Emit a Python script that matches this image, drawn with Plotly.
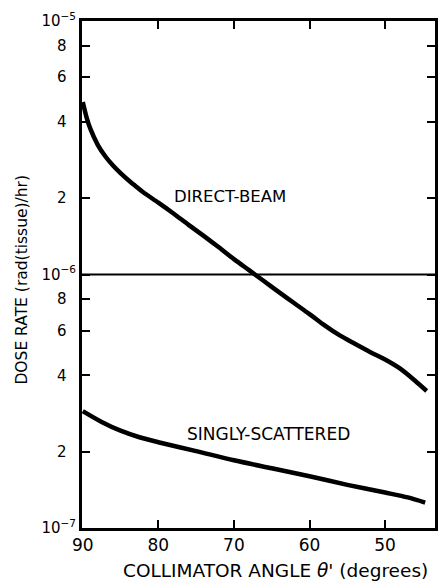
import plotly.graph_objects as go

# Data
direct_angle = [90.0, 89.5, 89.0, 88.0, 87.0, 86.0, 85.0, 84.0, 83.0, 82.0, 80.0, 78.0, 76.0, 74.0, 72.0, 70.0,
                68.0, 66.0, 64.0, 62.0, 60.0, 58.0, 56.0, 54.0, 52.0, 50.0, 48.0, 46.0, 44.5]
direct_dose = [4.79e-6, 4.17e-6, 3.76e-6, 3.24e-6, 2.92e-6, 2.69e-6, 2.51e-6, 2.36e-6, 2.23e-6, 2.11e-6,
               1.92e-6, 1.74e-6, 1.57e-6, 1.42e-6, 1.28e-6, 1.15e-6, 1.04e-6, 9.4e-7, 8.5e-7, 7.7e-7,
               6.98e-7, 6.3e-7, 5.75e-7, 5.33e-7, 4.95e-7, 4.62e-7, 4.25e-7, 3.8e-7, 3.47e-7]
scatter_angle = [90.0, 87.5, 85.0, 82.5, 80.0, 75.0, 70.0, 65.0, 60.0, 55.0, 50.0, 47.0, 44.7]
scatter_dose = [2.89e-7, 2.62e-7, 2.42e-7, 2.28e-7, 2.18e-7, 2.01e-7, 1.85e-7, 1.72e-7, 1.60e-7, 1.48e-7,
                1.38e-7, 1.32e-7, 1.26e-7]

x_ticks = [90, 80, 70, 60, 50]
y_ticks = [1e-7, 2e-7, 4e-7, 6e-7, 8e-7, 1e-6, 2e-6, 4e-6, 6e-6, 8e-6, 1e-5]
pad = "\u00a0\u00a0"
y_labels = ["10<sup>\u22127</sup>", "2" + pad, "4" + pad, "6" + pad, "8" + pad, "10<sup>\u22126</sup>",
            "2" + pad, "4" + pad, "6" + pad, "8" + pad, "10<sup>\u22125</sup>"]

FONT = "DejaVu Sans"

fig = go.Figure()
fig.add_trace(go.Scatter(x=direct_angle, y=direct_dose, mode="lines",
                         line=dict(color="black", width=4.5, shape="spline", smoothing=0.8)))
fig.add_trace(go.Scatter(x=scatter_angle, y=scatter_dose, mode="lines",
                         line=dict(color="black", width=4.5, shape="spline", smoothing=0.8)))

fig.add_shape(type="line", xref="paper", x0=0, x1=1, yref="y", y0=1e-6, y1=1e-6,
              line=dict(color="black", width=2))

fig.add_annotation(x=70.56, y=-5.693, text="DIRECT-BEAM", showarrow=False,
                   font=dict(family=FONT, size=16.5, color="black"))
fig.add_annotation(x=65.45, y=-6.631, text="SINGLY-SCATTERED", showarrow=False,
                   font=dict(family=FONT, size=17, color="black"))
fig.add_annotation(xref="paper", yref="paper", x=-0.1685, y=0.489, xanchor="center", yanchor="middle",
                   textangle=-90, text="DOSE RATE (rad(tissue)/hr)", showarrow=False,
                   font=dict(family=FONT, size=15.5, color="black"))
fig.add_annotation(xref="paper", yref="paper", x=0.548, y=0, yshift=-42, xanchor="center", yanchor="middle",
                   text="COLLIMATOR ANGLE <i>\u03b8'</i> (degrees)", showarrow=False,
                   font=dict(family=FONT, size=18.5, color="black"))

fig.update_layout(
    width=441, height=584,
    margin=dict(l=82, r=3, t=21, b=56),
    paper_bgcolor="white", plot_bgcolor="white",
    showlegend=False,
    font=dict(family=FONT, color="black"),
)
fig.update_xaxes(range=[90.1, 43.4], tickvals=x_ticks, ticks="inside", ticklen=8, tickwidth=2,
                 tickcolor="black", showline=True, linewidth=3, linecolor="black", mirror="allticks",
                 showgrid=False, zeroline=False, tickfont=dict(family=FONT, size=17, color="black"))
fig.update_yaxes(type="log", range=[-7, -5], tickvals=y_ticks, ticktext=y_labels, ticks="inside",
                 ticklen=8, tickwidth=2, tickcolor="black", showline=True, linewidth=3, linecolor="black",
                 mirror="allticks", showgrid=False, zeroline=False, ticklabelstandoff=0,
                 tickfont=dict(family=FONT, size=15, color="black"))

fig.write_html("out.html")
